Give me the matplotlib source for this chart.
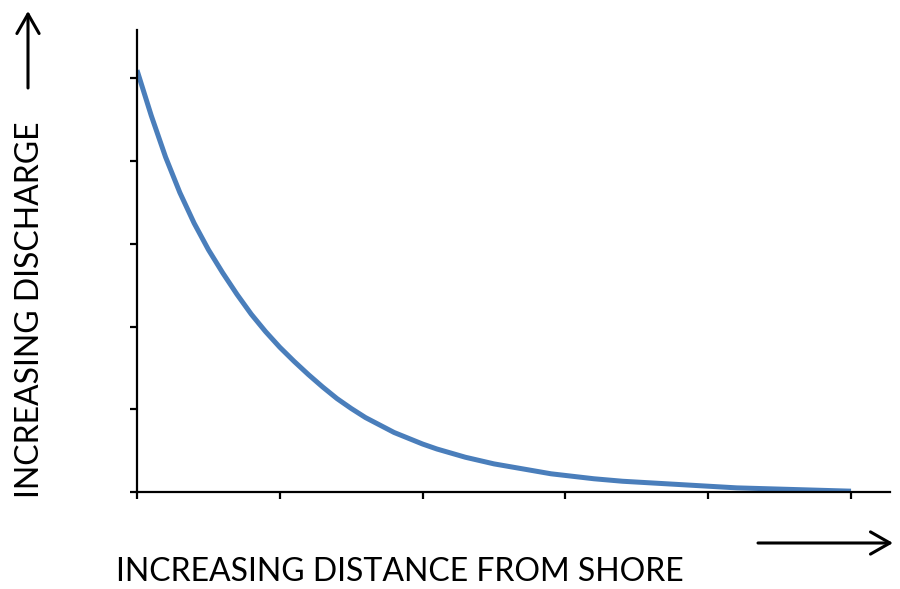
import matplotlib
matplotlib.use("Agg")
import matplotlib.pyplot as plt
from matplotlib.patches import FancyArrowPatch

# (relative units; axis ticks every 1 unit)
distance = [0.0, 0.1, 0.2, 0.3, 0.4, 0.5, 0.6, 0.7, 0.8, 0.9, 1.0, 1.1, 1.2,
            1.3, 1.4, 1.5, 1.6, 1.7, 1.8, 1.9, 2.0, 2.1, 2.2, 2.3, 2.4, 2.5,
            2.6, 2.7, 2.8, 2.9, 3.0, 3.2, 3.4, 3.6, 3.8, 4.0, 4.2, 4.4, 4.6,
            4.8, 5.0]
discharge = [5.10, 4.55, 4.05, 3.62, 3.25, 2.93, 2.65, 2.39, 2.15, 1.94, 1.75,
             1.58, 1.42, 1.27, 1.13, 1.01, 0.90, 0.81, 0.72, 0.65, 0.58, 0.52,
             0.47, 0.42, 0.38, 0.34, 0.31, 0.28, 0.25, 0.22, 0.20, 0.16, 0.13,
             0.11, 0.09, 0.07, 0.05, 0.04, 0.03, 0.02, 0.01]
x_ticks = [0, 1, 2, 3, 4, 5]
y_ticks = [0, 1, 2, 3, 4, 5]
x_label = "INCREASING DISTANCE FROM SHORE"
y_label = "INCREASING DISCHARGE"

plt.rcParams['font.family'] = ['Lato', 'DejaVu Sans']

fig = plt.figure(figsize=(9, 5.89), dpi=100)
ax = fig.add_axes([137/900, 1-492/589, (890-137)/900, (492-30)/589])
ax.plot(distance, discharge, color='#4A7EBB', lw=3.6, solid_capstyle='butt',
        solid_joinstyle='round')
ax.set_xlim(0, 5.273)
ax.set_ylim(0, 5.586)
ax.set_xticks(x_ticks)
ax.set_yticks(y_ticks)
ax.set_xticklabels([])
ax.set_yticklabels([])
for s in ['top', 'right']:
    ax.spines[s].set_visible(False)
for s in ['left', 'bottom']:
    ax.spines[s].set_linewidth(1.6)
    ax.spines[s].set_color('black')
ax.tick_params(direction='out', length=5, width=1.6, color='black')

fig.text(400/900, 1-572/589, x_label, ha='center', va='center', fontsize=23)
fig.text(30/900, 1-310/589, y_label, ha='center', va='center', rotation=90,
         fontsize=23)

style = '->,head_length=0.7,head_width=0.4'
fig.add_artist(FancyArrowPatch(
    (28/900, 1-88/589), (28/900, 1-11/589), transform=fig.transFigure,
    arrowstyle=style, mutation_scale=20, lw=2.2, color='black',
    shrinkA=0, shrinkB=0))
fig.add_artist(FancyArrowPatch(
    (758/900, 1-543/589), (893/900, 1-543/589), transform=fig.transFigure,
    arrowstyle=style, mutation_scale=20, lw=2.2, color='black',
    shrinkA=0, shrinkB=0))

fig.savefig("out.png", dpi=100)
